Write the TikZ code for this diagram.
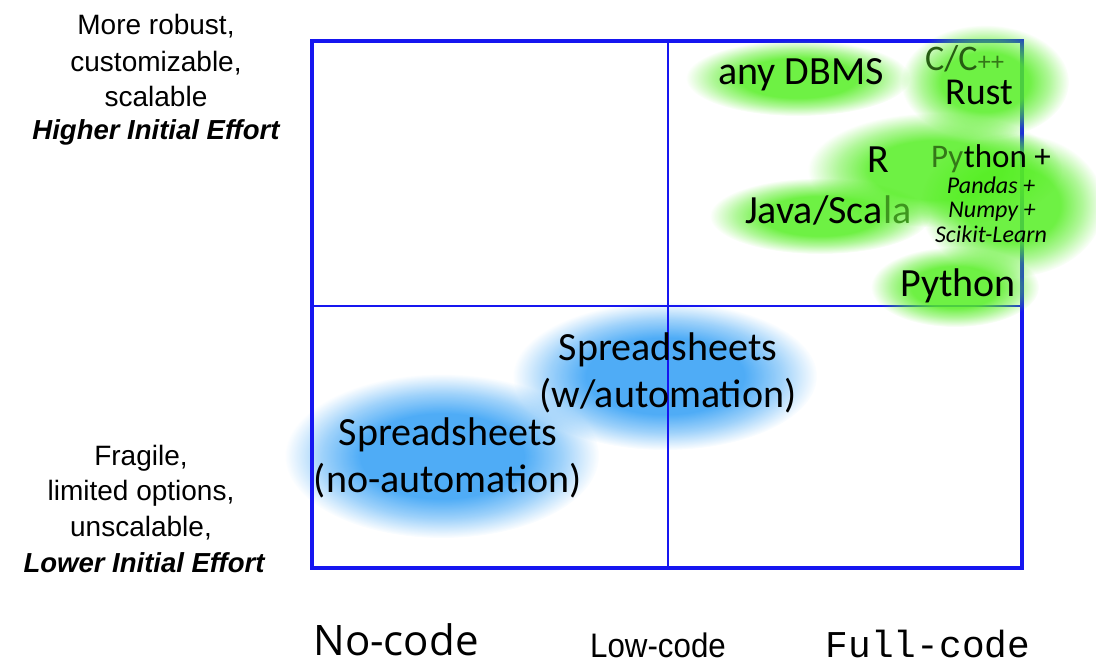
\documentclass[tikz,border=0pt]{standalone}
\usepackage{fontspec}
\setmainfont{Liberation Sans}
\newfontfamily\labfont{Carlito}
\newfontfamily\codefont{Liberation Mono}
\newfontfamily\nocodefont{Open Sans}
\usetikzlibrary{fadings}
\pgfdeclareradialshading{blobshading}{\pgfpointorigin}{color(0bp)=(pgftransparent!0); color(13bp)=(pgftransparent!0); color(19bp)=(pgftransparent!45); color(25bp)=(pgftransparent!100); color(50bp)=(pgftransparent!100)}
\pgfdeclarefading{blobfade}{\pgfuseshading{blobshading}}
\definecolor{frameblue}{RGB}{22,22,240}
\definecolor{blobgreen}{RGB}{85,238,35}
\definecolor{blobblue}{RGB}{70,168,246}
\definecolor{darkg}{RGB}{38,92,18}
\definecolor{midg}{RGB}{52,120,24}
\definecolor{lightg}{RGB}{62,150,30}
\tikzset{
  lab/.style={inner sep=0pt, anchor=base, font=\labfont\fontsize{40}{48}\selectfont},
  labit/.style={inner sep=0pt, anchor=base, font=\labfont\itshape\fontsize{24}{28}\selectfont},
  side/.style={inner sep=0pt, anchor=base, font=\fontsize{28}{34}\selectfont},
  sidebi/.style={inner sep=0pt, anchor=base, font=\bfseries\itshape\fontsize{27.5}{34}\selectfont},
  gblob/.style={fill=blobgreen, fill opacity=0.85, path fading=blobfade},
  bblob/.style={fill=blobblue, fill opacity=0.95, path fading=blobfade},
  outer/.style={draw=frameblue, line width=3.5pt},
  inner/.style={draw=frameblue, line width=2pt}
}
\begin{document}
\begin{tikzpicture}[x=1pt,y=-1pt]
\useasboundingbox (0,0) rectangle (1096,671);
% blue blobs
\fill[bblob] (665,376) ellipse [x radius=152pt, y radius=74pt];
\fill[bblob] (442,456) ellipse [x radius=157pt, y radius=82pt];
% frame
\coordinate (tl) at (312,41);
\coordinate (br) at (1022,568);
\coordinate (mt) at (668,41);
\coordinate (mb) at (668,568);
\coordinate (ml) at (312,306);
\coordinate (mr) at (1022,306);
\draw[inner] (mt) -- (mb);
\draw[inner] (ml) -- (mr);
\draw[outer] (tl) rectangle (br);
% green blobs
\fill[gblob] (798,78) ellipse [x radius=112pt, y radius=38pt];
\fill[gblob] (985,82) ellipse [x radius=84pt, y radius=57pt];
\fill[gblob] (935,170) ellipse [x radius=127pt, y radius=57pt];
\fill[gblob] (1012,205) ellipse [x radius=92pt, y radius=72pt];
\fill[gblob] (820,216) ellipse [x radius=110pt, y radius=38pt];
\fill[gblob] (955,287) ellipse [x radius=84pt, y radius=40pt];
% texts
\node[lab, anchor=base west, font=\labfont\fontsize{36}{44}\selectfont, text=darkg] (cc) at (925,71) {C/C};
\node[lab, anchor=base west, font=\labfont\fontsize{26}{30}\selectfont, text=midg] (pp) at (cc.base east) {++};
\node[lab] (dbms) at (801,85) {any DBMS};
\node[lab, font=\labfont\fontsize{38}{44}\selectfont] (rust) at (979,105) {Rust};
\node[lab] (r) at (878,173) {R};
\node[lab, anchor=base west, font=\labfont\fontsize{33}{40}\selectfont, text=midg] (py) at (931,168) {Py};
\node[lab, anchor=base west, font=\labfont\fontsize{33}{40}\selectfont] (thon) at (py.base east) {thon +};
\node[labit] (pandas) at (991,194) {Pandas +};
\node[labit] (numpy) at (992,218) {Numpy +};
\node[labit] (scikit) at (991,243) {Scikit-Learn};
\node[lab, anchor=base west] (jav) at (745,224) {Java/Sca};
\node[lab, anchor=base west, text=lightg] (la) at (jav.base east) {la};
\node[lab] (python) at (958,297) {Python};
\node[lab] (ss1) at (668,360) {Spreadsheets};
\node[lab] (wa) at (668,407) {(w/automation)};
\node[lab] (ss2) at (448,445) {Spreadsheets};
\node[lab] (na) at (448,492) {(no-automation)};
% side texts
\node[side] (t1) at (156,35) {More robust,};
\node[side] (t2) at (156,72) {customizable,};
\node[side] (t3) at (156,107) {scalable};
\node[sidebi] (t4) at (156,140) {Higher Initial Effort};
\node[side] (b1) at (141,465) {Fragile,};
\node[side] (b2) at (141,500) {limited options,};
\node[side] (b3) at (141,536) {unscalable,};
\node[sidebi] (b4) at (144,572) {Lower Initial Effort};
% bottom labels
\node[inner sep=0pt, anchor=base, font=\nocodefont\fontsize{42}{48}\selectfont] (nocode) at (396,655) {No-code};
\node[inner sep=0pt, anchor=base, font=\fontsize{34}{40}\selectfont] (lowcode) at (658,657) {\scalebox{0.92}[1]{Low-code}};
\node[inner sep=0pt, anchor=base, font=\codefont\fontsize{37.8}{44}\selectfont] (fullcode) at (928,657) {Full-code};
\end{tikzpicture}
\end{document}
